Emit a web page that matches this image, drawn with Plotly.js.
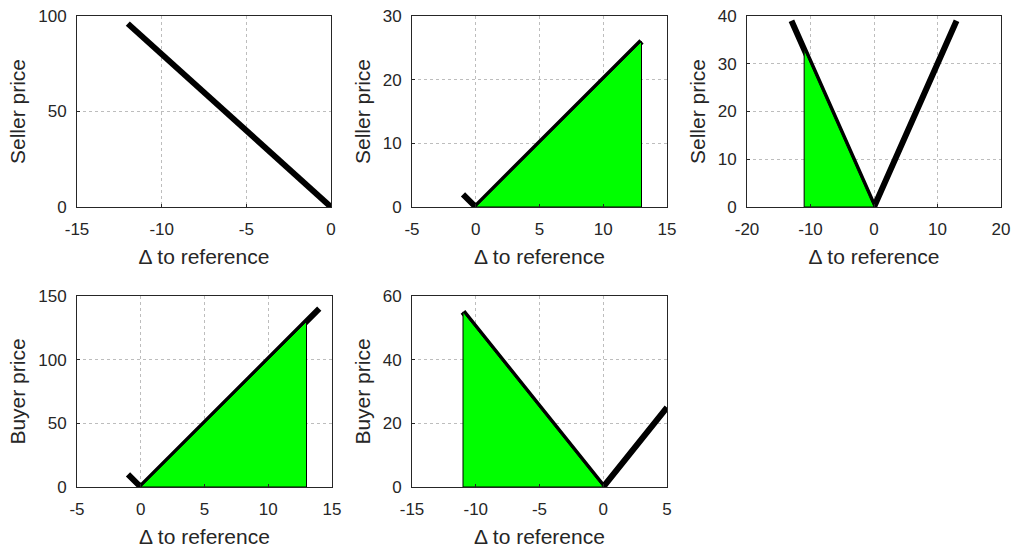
<!DOCTYPE html>
<html>
<head>
<meta charset="utf-8">
<script src="https://cdn.plot.ly/plotly-3.0.1.min.js"></script>
<style>html,body{margin:0;padding:0;background:#fff;}#chart{width:1013px;height:549px;}</style>
</head>
<body>
<div id="chart"></div>
<script>
// Panel 1 (Seller price)
const p1LineX = [-12, 0];
const p1LineY = [96, 0];
// Panel 2 (Seller price)
const p2LineX = [-1, 0, 13];
const p2LineY = [2, 0, 26];
const p2FillX = [0, 13, 13, 0];
const p2FillY = [0, 26, 0, 0];
// Panel 3 (Seller price)
const p3LineX = [-13, 0, 13];
const p3LineY = [39, 0, 39];
const p3FillX = [-11, -11, 0, -11];
const p3FillY = [0, 33, 0, 0];
// Panel 4 (Buyer price)
const p4LineX = [-1, 0, 14];
const p4LineY = [10, 0, 140];
const p4FillX = [0, 13, 13, 0];
const p4FillY = [0, 130, 0, 0];
// Panel 5 (Buyer price)
const p5LineX = [-11, 0, 5];
const p5LineY = [55, 0, 25];
const p5FillX = [-11, -11, 0, -11];
const p5FillY = [0, 55, 0, 0];

// Tick values and labels
const xTickVals = [[-15, -10, -5, 0], [-5, 0, 5, 10, 15], [-20, -10, 0, 10, 20], [-5, 0, 5, 10, 15], [-15, -10, -5, 0, 5]];
const xTickText = [["-15", "-10", "-5", "0"], ["-5", "0", "5", "10", "15"], ["-20", "-10", "0", "10", "20"], ["-5", "0", "5", "10", "15"], ["-15", "-10", "-5", "0", "5"]];
const yTickVals = [[0, 50, 100], [0, 10, 20, 30], [0, 10, 20, 30, 40], [0, 50, 100, 150], [0, 20, 40, 60]];
const yTickText = [["0", "50", "100"], ["0", "10", "20", "30"], ["0", "10", "20", "30", "40"], ["0", "50", "100", "150"], ["0", "20", "40", "60"]];

const xTitle = "\u0394 to reference";
const yTitles = ["Seller price", "Seller price", "Seller price", "Buyer price", "Buyer price"];
const xRanges = [[-15, 0], [-5, 15], [-20, 20], [-5, 15], [-15, 5]];
const yRanges = [[0, 100], [0, 30], [0, 40], [0, 150], [0, 60]];

const W = 1013, H = 549;
const boxes = [
  [77, 331, 16, 207],
  [412, 667, 16, 207],
  [747, 1001, 16, 207],
  [77, 332, 296, 487],
  [412, 667, 296, 487]
];

const lines = [[p1LineX, p1LineY], [p2LineX, p2LineY], [p3LineX, p3LineY], [p4LineX, p4LineY], [p5LineX, p5LineY]];
const fills = [null, [p2FillX, p2FillY], [p3FillX, p3FillY], [p4FillX, p4FillY], [p5FillX, p5FillY]];

const traces = [];
const layout = {
  width: W, height: H,
  margin: {l: 0, r: 0, t: 0, b: 0},
  paper_bgcolor: '#fff', plot_bgcolor: '#fff',
  showlegend: false,
  font: {family: 'Liberation Sans, Arial, sans-serif', size: 17, color: '#262626'}
};

for (let i = 0; i < 5; i++) {
  const n = i === 0 ? '' : String(i + 1);
  const xa = 'x' + n, ya = 'y' + n;
  traces.push({x: lines[i][0], y: lines[i][1], xaxis: xa, yaxis: ya, mode: 'lines',
    line: {color: '#000', width: 6}, hoverinfo: 'skip'});
  if (fills[i]) {
    traces.push({x: fills[i][0], y: fills[i][1], xaxis: xa, yaxis: ya, mode: 'lines',
      fill: 'toself', fillcolor: '#00ff00', line: {color: '#000', width: 1}, hoverinfo: 'skip'});
  }
  const b = boxes[i];
  layout['xaxis' + n] = {
    domain: [b[0] / W, b[1] / W], anchor: ya, range: xRanges[i],
    tickmode: 'array', tickvals: xTickVals[i], ticktext: xTickText[i],
    showgrid: true, gridcolor: '#bdbdbd', griddash: 'dot', gridwidth: 1, zeroline: false,
    showline: true, linecolor: '#262626', linewidth: 1, mirror: true,
    ticks: 'inside', ticklen: 3, tickcolor: '#262626', ticklabelstandoff: 7,
    tickfont: {size: 17}, automargin: false,
    title: {text: xTitle, font: {size: 21}, standoff: 10}
  };
  layout['yaxis' + n] = {
    domain: [1 - b[3] / H, 1 - b[2] / H], anchor: xa, range: yRanges[i],
    tickmode: 'array', tickvals: yTickVals[i], ticktext: yTickText[i],
    showgrid: true, gridcolor: '#bdbdbd', griddash: 'dot', gridwidth: 1, zeroline: false,
    showline: true, linecolor: '#262626', linewidth: 1, mirror: true,
    ticks: 'inside', ticklen: 3, tickcolor: '#262626', ticklabelstandoff: 6,
    tickfont: {size: 17}, automargin: false,
    title: {text: yTitles[i], font: {size: 21}, standoff: 6}
  };
}

Plotly.newPlot('chart', traces, layout, {staticPlot: true});
</script>
</body>
</html>
